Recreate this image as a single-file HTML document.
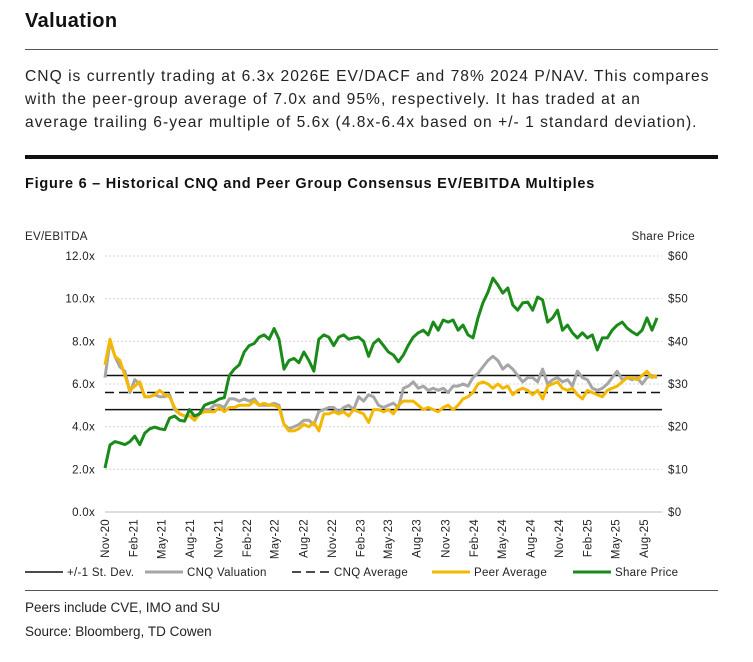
<!DOCTYPE html>
<html><head><meta charset="utf-8">
<style>
body{margin:0;background:#fff;font-family:"Liberation Sans",sans-serif;color:#111}
#wrap{position:relative;width:753px;height:662px;overflow:hidden}
.t{position:absolute;white-space:nowrap}
</style></head><body>
<div id="wrap">
<div class="t" style="left:25px;top:10px;font-size:20px;font-weight:bold;letter-spacing:0.4px">Valuation</div>
<div style="position:absolute;left:25px;top:49px;width:693px;height:1px;background:#555"></div>
<div class="t" style="left:25px;top:65px;font-size:15.6px;line-height:23px;color:#222;letter-spacing:1.02px">CNQ is currently trading at 6.3x 2026E EV/DACF and 78% 2024 P/NAV. This compares<br>with the peer-group average of 7.0x and 95%, respectively. It has traded at an<br>average trailing 6-year multiple of 5.6x (4.8x-6.4x based on +/- 1 standard deviation).</div>
<div style="position:absolute;left:25px;top:155px;width:693px;height:4px;background:#111"></div>
<div class="t" style="left:25px;top:176px;font-size:14.5px;font-weight:bold;letter-spacing:0.75px">Figure 6 – Historical CNQ and Peer Group Consensus EV/EBITDA Multiples</div>
<svg id="chart" width="753" height="662" style="position:absolute;left:0;top:0" font-family="Liberation Sans, sans-serif" letter-spacing="0.3"></svg>
<div style="position:absolute;left:25px;top:590px;width:693px;height:1px;background:#555"></div>
<div class="t" style="left:25px;top:600px;font-size:13.5px;color:#222">Peers include CVE, IMO and SU</div>
<div class="t" style="left:25px;top:624px;font-size:13.5px;color:#222">Source: Bloomberg, TD Cowen</div>
</div>
<script>
const leftTicks=["0.0x","2.0x","4.0x","6.0x","8.0x","10.0x","12.0x"];
const leftTickVals=[0,2,4,6,8,10,12];
const rightTicks=["$0","$10","$20","$30","$40","$50","$60"];
const rightTickVals=[0,10,20,30,40,50,60];
const xLabels=["Nov-20","Feb-21","May-21","Aug-21","Nov-21","Feb-22","May-22","Aug-22","Nov-22","Feb-23","May-23","Aug-23","Nov-23","Feb-24","May-24","Aug-24","Nov-24","Feb-25","May-25","Aug-25"];
const stdHigh=6.4, stdLow=4.8, cnqAvg=5.6;
const startDate="2020-11-01";
const stepDays=16;
const cnqValuation=[6.3,8.0,7.3,6.8,6.6,5.6,6.2,6.0,5.4,5.4,5.5,5.4,5.4,5.5,4.8,4.6,4.5,4.5,4.5,4.6,4.8,4.8,5.0,5.0,4.9,5.3,5.3,5.2,5.3,5.2,5.3,5.0,5.0,5.0,5.1,5.0,4.1,3.9,4.0,4.1,4.3,4.3,4.1,4.7,4.8,4.9,4.9,4.7,4.9,5.0,4.8,5.4,5.2,5.5,5.4,5.0,4.9,5.0,5.1,4.9,5.8,5.9,6.1,5.8,5.9,5.7,5.8,5.7,5.8,5.6,5.9,5.9,6.0,5.9,6.3,6.5,6.8,7.1,7.3,7.1,6.7,6.9,6.7,6.4,6.1,6.3,6.3,6.1,6.7,6.0,6.2,6.3,6.1,6.2,5.9,6.6,6.3,6.2,5.8,5.7,5.8,6.0,6.3,6.6,6.2,6.3,6.2,6.3,6.0,6.3,6.4,6.3];
const peerAverage=[6.9,8.1,7.3,7.1,6.4,5.7,5.9,6.1,5.4,5.4,5.5,5.7,5.5,5.4,4.9,4.6,4.5,4.5,4.3,4.6,4.7,4.7,4.7,4.9,4.7,4.9,4.9,5.0,5.0,5.0,5.2,5.0,5.1,5.0,5.0,4.9,4.1,3.8,3.8,3.9,4.1,4.0,4.2,3.8,4.6,4.6,4.7,4.6,4.7,4.5,4.8,4.7,4.6,4.2,4.8,4.8,4.7,4.8,4.6,5.0,5.2,5.2,5.2,5.0,4.8,4.9,4.8,4.7,4.9,5.0,4.8,5.0,5.3,5.4,5.6,6.0,6.1,6.0,5.8,6.0,5.8,5.9,5.5,5.7,5.8,5.7,5.5,5.7,5.3,5.9,6.0,6.1,5.8,5.7,5.8,5.5,5.3,5.7,5.6,5.5,5.4,5.7,5.8,5.9,6.1,6.3,6.3,6.2,6.4,6.6,6.3,6.4];
const sharePrice=[10.3,15.7,16.5,16.2,15.8,16.5,17.8,15.8,18.5,19.5,19.9,19.5,19.3,22,22.5,21.5,21.3,24,22.5,23,25,25.5,25.8,26.5,26.8,32,33.5,34.5,37.5,39,39.5,41,41.5,40.5,43,40.5,33.5,35.5,36,35,37.5,35.5,33,40.5,41.5,41,39,41,41.5,40.5,40.8,41,40,36.5,39.5,40.5,39,37.5,36.8,35.2,36.8,39.1,41,42,42.6,41.5,44.5,42.6,45,44.5,45,42.6,43.8,41.5,40.8,45.5,49,51.5,54.8,53.2,51.3,52.5,48.5,47.3,49,49.2,47.3,50.4,49.7,44.5,45.5,47.3,42.6,43.8,42,40.8,42,40.8,41.5,38,40.8,40.8,42.6,43.8,44.5,43.1,42.2,41.5,42.6,45.5,42.6,45.5];

const svg=document.getElementById('chart');
const NS='http://www.w3.org/2000/svg';
const X0=105, PXDAY=0.3108, Y0=512, Y1=256;
const t0=Date.parse(startDate+"T00:00:00Z");
function xDay(d){return X0+d*PXDAY;}
function yL(v){return Y0-(v/12)*(Y0-Y1);}
function yR(v){return Y0-(v/60)*(Y0-Y1);}
function mk(tag,attrs,txt){const e=document.createElementNS(NS,tag);for(const k in attrs)e.setAttribute(k,attrs[k]);if(txt!==undefined)e.textContent=txt;svg.appendChild(e);return e;}
function labelDay(s){const m={Jan:0,Feb:1,Mar:2,Apr:3,May:4,Jun:5,Jul:6,Aug:7,Sep:8,Oct:9,Nov:10,Dec:11};const p=s.split('-');return (Date.UTC(2000+ +p[1],m[p[0]],1)-t0)/86400000;}

mk('text',{x:25,y:240,'font-size':11.5,fill:'#222'},'EV/EBITDA');
mk('text',{x:695,y:240,'font-size':11.5,fill:'#222','text-anchor':'end'},'Share Price');

leftTickVals.forEach((v,i)=>{
  if(v>0){const g=mk('line',{x1:X0,x2:662,y1:yL(v),y2:yL(v),stroke:'#d6d6d6','stroke-dasharray':'2,2','stroke-width':1});
  
  }
  const t=mk('text',{x:95,y:yL(v)+4,'font-size':11.5,fill:'#222','text-anchor':'end'},leftTicks[i]);
  
  
});
rightTickVals.forEach((v,i)=>{
  const t=mk('text',{x:668,y:yR(v)+4,'font-size':11.5,fill:'#222'},rightTicks[i]);
  
  
});
const ax=mk('line',{x1:X0,x2:662,y1:Y0,y2:Y0,stroke:'#bbb','stroke-width':1});


xLabels.forEach(l=>{
  const x=xDay(labelDay(l))+4;
  const t=mk('text',{x:0,y:0,'font-size':11.5,fill:'#222','text-anchor':'end',transform:`translate(${x},519) rotate(-90)`},l);
  
  
});
function hline(v,dash,name){const e=mk('line',{x1:X0,x2:662,y1:yL(v),y2:yL(v),stroke:'#111','stroke-width':1.5});if(dash)e.setAttribute('stroke-dasharray','9,5');

}
hline(stdHigh,false,'std-dev-upper');hline(stdLow,false,'std-dev-lower');hline(cnqAvg,true,'cnq-average-line');
function series(arr,yf,color,name){const pts=arr.map((v,i)=>xDay(i*stepDays).toFixed(1)+','+yf(v).toFixed(1)).join(' ');
const p=mk('polyline',{points:pts,fill:'none',stroke:color,'stroke-width':3,'stroke-linejoin':'round'});

}
series(cnqValuation,yL,'#a6a6a6','cnq-valuation-line');
series(peerAverage,yL,'#f5b800','peer-average-line');
series(sharePrice,yR,'#1a8a1a','share-price-line');

const legend=[["+/-1 St. Dev.",'#111',null,25,'legend-std-dev'],["CNQ Valuation",'#a6a6a6',null,145,'legend-cnq-valuation'],["CNQ Average",'#111','9,5',292,'legend-cnq-average'],["Peer Average",'#f5b800',null,432,'legend-peer-average'],["Share Price",'#1a8a1a',null,573,'legend-share-price']];
legend.forEach(([txt,c,d,x,n])=>{
  const l=mk('line',{x1:x,x2:x+38,y1:572,y2:572,stroke:c,'stroke-width':c=='#111'?1.5:3});if(d)l.setAttribute('stroke-dasharray',d);
  
  
  const t=mk('text',{x:x+42,y:576,'font-size':11.5,fill:'#222'},txt);
  
  
});
</script>
</body></html>
